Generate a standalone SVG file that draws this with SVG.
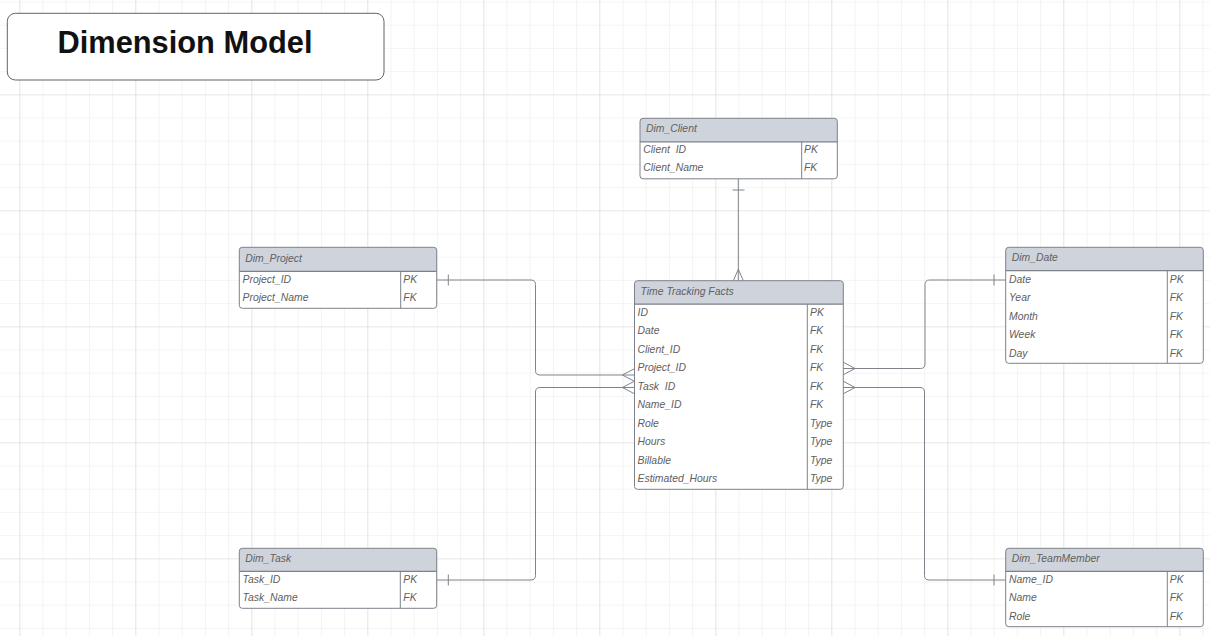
<svg xmlns="http://www.w3.org/2000/svg" width="1210" height="636" viewBox="0 0 1210 636">
  <defs>
    <pattern id="gMinor" patternUnits="userSpaceOnUse" x="19.3" y="1.5" width="23.2" height="23.2">
      <path d="M0,0 H23.2 M0,0 V23.2" fill="none" stroke="#ebebeb" stroke-width="1.2"/>
    </pattern>
    <pattern id="gMajor" patternUnits="userSpaceOnUse" x="19.3" y="94.3" width="116" height="116">
      <path d="M0,0 H116 M0,0 V116" fill="none" stroke="#dcdcdc" stroke-width="1.2"/>
    </pattern>
    <style>
      .tb{fill:#ffffff;stroke:none}
      .hd{fill:#cfd4dc;stroke:none}
      .ol{fill:none;stroke:#7d8189;stroke-width:1}
      .sep{stroke:#7d8189;stroke-width:1.3}
      .col{stroke:#7d8189;stroke-width:1}
      .t{font-family:"Liberation Sans",Arial,sans-serif;font-style:italic;font-size:10.4px;fill:#606060;white-space:pre}
      .conn{fill:none;stroke:#7f8389;stroke-width:1}
      .title{font-family:"Liberation Sans",Arial,sans-serif;font-weight:bold;font-size:30.8px;fill:#111111}
    </style>
  </defs>

  <rect width="1210" height="636" fill="#ffffff"/>
  <rect width="1210" height="636" fill="url(#gMinor)"/>
  <rect width="1210" height="636" fill="url(#gMajor)"/>

  <g id="title">
    <rect x="7.3" y="13.3" width="376.7" height="66.7" rx="8" ry="8" fill="#ffffff" stroke="#5f6368" stroke-width="1"/>
    <text class="title" x="57.5" y="53.3">Dimension Model</text>
  </g>

  <g id="connectors">
    <path class="conn" d="M738.3,178.7 V280.7"/>
    <path class="conn" d="M732.5,190 H744.5"/>
    <path class="conn" d="M733.3,280.7 L738.3,269.3 L743.3,280.7"/>
    <path class="conn" d="M436.7,280 H531 Q535.5,280 535.5,284.5 V370.5 Q535.5,375 540,375 H634.5"/>
    <path class="conn" d="M448.3,274.5 V285.5"/>
    <path class="conn" d="M634.5,368.7 L622.3,375 L634.5,381.3"/>
    <path class="conn" d="M436.7,580 H531 Q535.5,580 535.5,575.5 V392 Q535.5,387.5 540,387.5 H634.5"/>
    <path class="conn" d="M448.3,574.5 V585.5"/>
    <path class="conn" d="M634.5,381.2 L622.3,387.5 L634.5,393.8"/>
    <path class="conn" d="M843.3,368.5 H920.5 Q925,368.5 925,364 V284.5 Q925,280 929.5,280 H1005.7"/>
    <path class="conn" d="M994,274.5 V285.5"/>
    <path class="conn" d="M843.3,362.2 L855,368.5 L843.3,374.8"/>
    <path class="conn" d="M843.3,387.5 H920 Q924.5,387.5 924.5,392 V575.5 Q924.5,580 929,580 H1005.7"/>
    <path class="conn" d="M994,574.5 V585.5"/>
    <path class="conn" d="M843.3,381.2 L855,387.5 L843.3,393.8"/>
  </g>

  <g id="dim_client" transform="translate(640,118.3)">
    <rect class="tb" width="197.3" height="60.5" rx="3"/>
    <path class="hd" d="M0,23.5 V3 A3,3 0 0 1 3,0 H194.3 A3,3 0 0 1 197.3,3 V23.5 Z"/>
    <rect class="ol" width="197.3" height="60.5" rx="3"/>
    <line class="sep" x1="0" y1="23.5" x2="197.3" y2="23.5"/>
    <line class="col" x1="161.7" y1="23.5" x2="161.7" y2="60.5"/>
    <text class="t" x="6" y="14">Dim_Client</text>
    <text class="t" x="3.3" y="34.7" xml:space="preserve">Client  ID</text><text class="t" x="164" y="34.7">PK</text>
    <text class="t" x="3.3" y="53.2">Client_Name</text><text class="t" x="164" y="53.2">FK</text>
  </g>

  <g id="facts" transform="translate(634.5,280.7)">
    <rect class="tb" width="208.8" height="208.6" rx="3"/>
    <path class="hd" d="M0,23.5 V3 A3,3 0 0 1 3,0 H205.8 A3,3 0 0 1 208.8,3 V23.5 Z"/>
    <rect class="ol" width="208.8" height="208.6" rx="3"/>
    <line class="sep" x1="0" y1="23.5" x2="208.8" y2="23.5"/>
    <line class="col" x1="172.8" y1="23.5" x2="172.8" y2="208.6"/>
    <text class="t" x="6" y="14">Time Tracking Facts</text>
    <text class="t" x="3" y="35.3">ID</text><text class="t" x="175.5" y="35.3">PK</text>
    <text class="t" x="3" y="53.8">Date</text><text class="t" x="175.5" y="53.8">FK</text>
    <text class="t" x="3" y="72.3">Client_ID</text><text class="t" x="175.5" y="72.3">FK</text>
    <text class="t" x="3" y="90.8">Project_ID</text><text class="t" x="175.5" y="90.8">FK</text>
    <text class="t" x="3" y="109.3" xml:space="preserve">Task  ID</text><text class="t" x="175.5" y="109.3">FK</text>
    <text class="t" x="3" y="127.8">Name_ID</text><text class="t" x="175.5" y="127.8">FK</text>
    <text class="t" x="3" y="146.3">Role</text><text class="t" x="175.5" y="146.3">Type</text>
    <text class="t" x="3" y="164.8">Hours</text><text class="t" x="175.5" y="164.8">Type</text>
    <text class="t" x="3" y="183.3">Billable</text><text class="t" x="175.5" y="183.3">Type</text>
    <text class="t" x="3" y="201.8">Estimated_Hours</text><text class="t" x="175.5" y="201.8">Type</text>
  </g>

  <g id="dim_project" transform="translate(239.3,247.3)">
    <rect class="tb" width="197.4" height="61" rx="3"/>
    <path class="hd" d="M0,24 V3 A3,3 0 0 1 3,0 H194.4 A3,3 0 0 1 197.4,3 V24 Z"/>
    <rect class="ol" width="197.4" height="61" rx="3"/>
    <line class="sep" x1="0" y1="24" x2="197.4" y2="24"/>
    <line class="col" x1="161.4" y1="24" x2="161.4" y2="61"/>
    <text class="t" x="6" y="14.3">Dim_Project</text>
    <text class="t" x="3.3" y="35.7">Project_ID</text><text class="t" x="164" y="35.7">PK</text>
    <text class="t" x="3.3" y="54.1">Project_Name</text><text class="t" x="164" y="54.1">FK</text>
  </g>

  <g id="dim_task" transform="translate(239.3,548.3)">
    <rect class="tb" width="197.4" height="60" rx="3"/>
    <path class="hd" d="M0,23 V3 A3,3 0 0 1 3,0 H194.4 A3,3 0 0 1 197.4,3 V23 Z"/>
    <rect class="ol" width="197.4" height="60" rx="3"/>
    <line class="sep" x1="0" y1="23" x2="197.4" y2="23"/>
    <line class="col" x1="161" y1="23" x2="161" y2="60"/>
    <text class="t" x="6" y="14">Dim_Task</text>
    <text class="t" x="3.3" y="34.7">Task_ID</text><text class="t" x="164" y="34.7">PK</text>
    <text class="t" x="3.3" y="53.1">Task_Name</text><text class="t" x="164" y="53.1">FK</text>
  </g>

  <g id="dim_date" transform="translate(1005.7,247.3)">
    <rect class="tb" width="197.6" height="116" rx="3"/>
    <path class="hd" d="M0,23.4 V3 A3,3 0 0 1 3,0 H194.6 A3,3 0 0 1 197.6,3 V23.4 Z"/>
    <rect class="ol" width="197.6" height="116" rx="3"/>
    <line class="sep" x1="0" y1="23.4" x2="197.6" y2="23.4"/>
    <line class="col" x1="161.6" y1="23.4" x2="161.6" y2="116"/>
    <text class="t" x="6" y="14">Dim_Date</text>
    <text class="t" x="3.3" y="35.4">Date</text><text class="t" x="164" y="35.4">PK</text>
    <text class="t" x="3.3" y="53.9">Year</text><text class="t" x="164" y="53.9">FK</text>
    <text class="t" x="3.3" y="72.4">Month</text><text class="t" x="164" y="72.4">FK</text>
    <text class="t" x="3.3" y="90.9">Week</text><text class="t" x="164" y="90.9">FK</text>
    <text class="t" x="3.3" y="109.4">Day</text><text class="t" x="164" y="109.4">FK</text>
  </g>

  <g id="dim_teammember" transform="translate(1005.7,548.3)">
    <rect class="tb" width="197.6" height="78.4" rx="3"/>
    <path class="hd" d="M0,23 V3 A3,3 0 0 1 3,0 H194.6 A3,3 0 0 1 197.6,3 V23 Z"/>
    <rect class="ol" width="197.6" height="78.4" rx="3"/>
    <line class="sep" x1="0" y1="23" x2="197.6" y2="23"/>
    <line class="col" x1="161.6" y1="23" x2="161.6" y2="78.4"/>
    <text class="t" x="6" y="14">Dim_TeamMember</text>
    <text class="t" x="3.3" y="34.7">Name_ID</text><text class="t" x="164" y="34.7">PK</text>
    <text class="t" x="3.3" y="53.1">Name</text><text class="t" x="164" y="53.1">FK</text>
    <text class="t" x="3.3" y="72">Role</text><text class="t" x="164" y="72">FK</text>
  </g>
</svg>
